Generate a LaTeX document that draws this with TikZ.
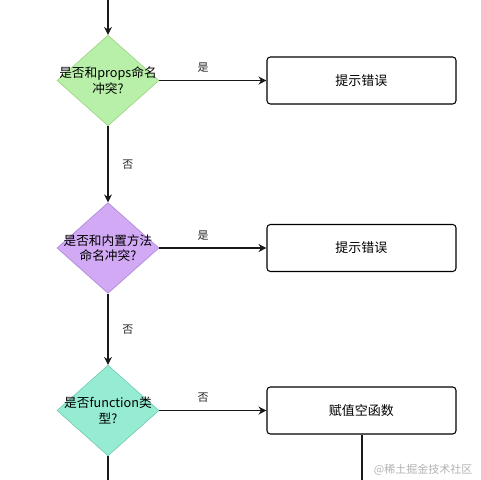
\documentclass[tikz,border=0pt]{standalone}
\usepackage{fontspec}
\setmainfont{Noto Sans CJK SC}
\usetikzlibrary{shapes.geometric}
\usetikzlibrary{arrows.meta}
\definecolor{askgreen}{HTML}{B9F0A9}
\definecolor{askgreenline}{HTML}{97D077}
\definecolor{askpurple}{HTML}{D1A9F5}
\definecolor{askpurpleline}{HTML}{A680D0}
\definecolor{askmint}{HTML}{96EBD3}
\definecolor{askmintline}{HTML}{6CC7AC}

\begin{document}
\begin{tikzpicture}
	[x=0.75pt,y=-0.75pt,
	ask/.style={diamond, inner sep=0pt, minimum width=76.5pt, minimum height=68pt},
	asktext/.style={align=center, font=\fontsize{9.5pt}{11.5pt}\selectfont, inner sep=0pt},
	result/.style={rectangle, rounded corners=2.5pt, draw=black, thick, fill=white, minimum width=141.75pt, minimum height=35.25pt, font=\fontsize{9.75pt}{12pt}\selectfont},
	answer/.style={font=\fontsize{8.25pt}{10pt}\selectfont, text=black!85},
	flow/.style={draw=black!90, line width=0.8pt, -{Stealth[length=6pt,width=6pt]}},
	flowend/.style={draw=black!90, line width=0.8pt}]

\useasboundingbox (0,0) rectangle (480,480);
\coordinate (start) at (108,0);
\coordinate (endleft) at (108,480);
\coordinate (endright) at (362,480);

\node [ask, fill=askgreen, draw=askgreenline] (props) at (108,80.5) {};
\node [asktext] at (props) {是否和props命名\\冲突?};
\node [ask, fill=askpurple, draw=askpurpleline] (inner) at (108,248) {};
\node [asktext] at (inner) {是否和内置方法\\命名冲突?};
\node [ask, fill=askmint, draw=askmintline] (func) at (108,410.5) {};
\node [asktext] at (func) {是否function类\\型?};

\node [result] (err1) at (361.5,80.5) {提示错误};
\node [result] (err2) at (361.5,248) {提示错误};
\node [result] (empty) at (361.5,410.5) {赋值空函数};

\draw [flow] (start) -- (props.north);
\draw [flow] (props.east) -- node [answer, above=2pt, pos=0.41] {是} (err1.west);
\draw [flow] (props.south) -- node [answer, right=7pt, pos=0.5] {否} (inner.north);
\draw [flow] (inner.east) -- node [answer, above=2pt, pos=0.41] {是} (err2.west);
\draw [flow] (inner.south) -- node [answer, right=7pt, pos=0.5] {否} (func.north);
\draw [flow] (func.east) -- node [answer, above=2pt, pos=0.41] {否} (empty.west);
\draw [flowend] (func.south) -- (endleft);
\draw [flowend] (empty.south -| endright) -- (endright);

\node [font=\fontsize{8.25pt}{10pt}\selectfont, text=black!30, anchor=east] (mark) at (477,470) {@稀土掘金技术社区};

\end{tikzpicture}
\end{document}
